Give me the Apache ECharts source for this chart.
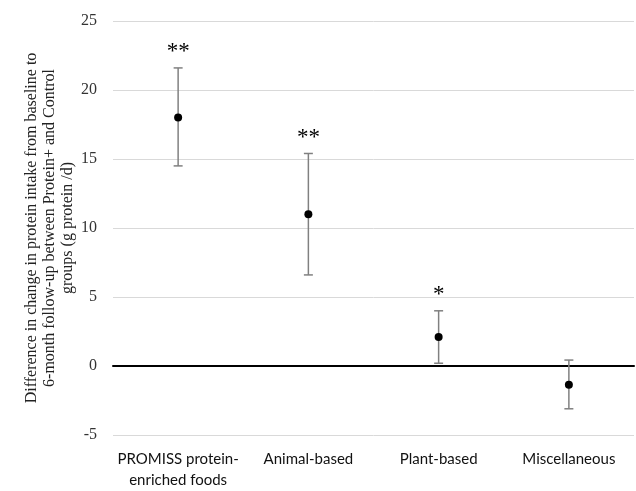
<!DOCTYPE html>
<html>
<head>
<meta charset="utf-8">
<script src="https://cdn.jsdelivr.net/npm/echarts@6/dist/echarts.min.js"></script>
<style>html,body{margin:0;padding:0;background:#fff}#c{width:636px;height:491px}</style>
</head>
<body>
<div id="c"></div>
<script>
const categories = ['PROMISS protein-\nenriched foods', 'Animal-based', 'Plant-based', 'Miscellaneous'];
const means = [18.0, 11.0, 2.1, -1.35];
const upper = [21.6, 15.4, 4.0, 0.43];
const lower = [14.5, 6.6, 0.2, -3.1];
const significance = ['**', '**', '*', ''];
const yTicks = { min: -5, max: 25, interval: 5 };
const yTitle = 'Difference in change in protein intake from baseline to\n6-month follow-up between Protein+ and Control\ngroups (g protein /d)';

const SERIF = '"Liberation Serif", "Times New Roman", serif';
const chart = echarts.init(document.getElementById('c'), null, { renderer: 'canvas' });
const errData = categories.map((c, i) => [i, lower[i], upper[i]]);
chart.setOption({
  animation: false,
  textStyle: { fontFamily: SERIF },
  grid: { left: 113, right: 2, top: 21, bottom: 54 },
  xAxis: {
    type: 'category',
    data: categories,
    axisLine: { onZero: true, lineStyle: { color: '#000', width: 2 } },
    axisTick: { show: false },
    axisLabel: { interval: 0, fontFamily: 'Lato', fontSize: 15, color: '#111', lineHeight: 21, margin: 0, padding: [14, 0, 0, 0] },
    splitLine: { show: false }
  },
  yAxis: {
    type: 'value',
    min: yTicks.min, max: yTicks.max, interval: yTicks.interval,
    axisLine: { show: false },
    axisTick: { show: false },
    axisLabel: {
      margin: 16,
      formatter: '{t|{value}}',
      rich: { t: { fontFamily: SERIF, fontSize: 16, color: '#333' } }
    },
    splitLine: { lineStyle: { color: '#d9d9d9', width: 1 } },
    name: yTitle,
    nameLocation: 'middle',
    nameGap: 36,
    nameMoveOverlap: false,
    nameTextStyle: { fontFamily: SERIF, fontSize: 16, color: '#222', lineHeight: 18 }
  },
  series: [
    {
      type: 'custom',
      data: errData,
      z: 2,
      renderItem: function (params, api) {
        const x = api.value(0);
        const lo = api.coord([x, api.value(1)]);
        const hi = api.coord([x, api.value(2)]);
        const cw = 4.5;
        const style = { stroke: '#808080', lineWidth: 1.5 };
        const children = [
          { type: 'line', shape: { x1: lo[0], y1: lo[1], x2: hi[0], y2: hi[1] }, style: style },
          { type: 'line', shape: { x1: lo[0] - cw, y1: lo[1], x2: lo[0] + cw, y2: lo[1] }, style: style },
          { type: 'line', shape: { x1: hi[0] - cw, y1: hi[1], x2: hi[0] + cw, y2: hi[1] }, style: style }
        ];
        const sig = significance[params.dataIndex];
        if (sig) {
          children.push({
            type: 'text',
            style: {
              text: sig, x: hi[0], y: hi[1] - 16,
              align: 'center', verticalAlign: 'middle',
              font: '23px "Liberation Serif"',
              fill: '#000'
            }
          });
        }
        return { type: 'group', children: children };
      }
    },
    {
      type: 'scatter',
      data: means.map((v, i) => [i, v]),
      symbol: 'circle',
      symbolSize: 8,
      itemStyle: { color: '#000', opacity: 1 },
      z: 3
    }
  ]
});
</script>
</body>
</html>
